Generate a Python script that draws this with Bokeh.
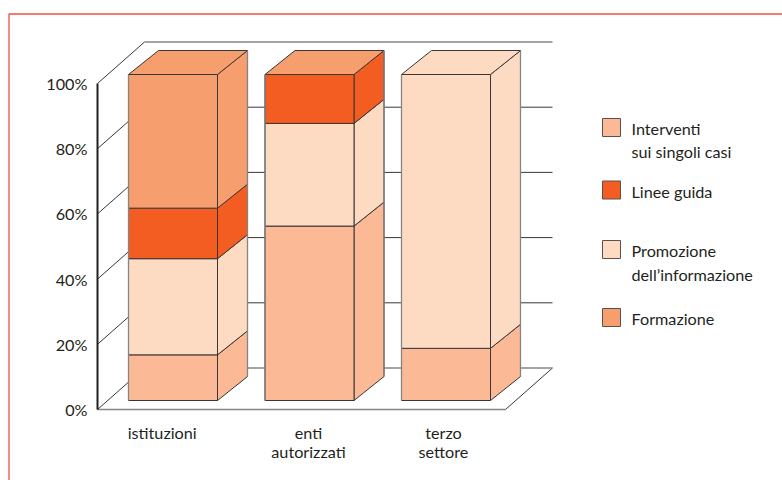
from bokeh.plotting import figure
from bokeh.models import Range1d, LinearAxis, FixedTicker
from bokeh.core.properties import value
from bokeh.embed import file_html
from bokeh.resources import INLINE

categories = ["istituzioni", "enti\nautorizzati", "terzo\nsettore"]
series_names = ["Interventi", "Promozione", "Linee guida", "Formazione"]
interventi = [14, 53.5, 16]
promozione = [29.5, 31.5, 84]
linee_guida = [15.5, 15, 0]
formazione = [41, 0, 0]
series_values = [interventi, promozione, linee_guida, formazione]
colors = ["#FBB995", "#FDDAC2", "#F35D22", "#F79E6F"]
top_face_series = [3, 3, 1]
y_ticks = [0, 20, 40, 60, 80, 100]

legend_entries = [
    (0, ["Interventi", "sui singoli casi"], 127, [128, 150.5]),
    (2, ["Linee guida"], 189.5, [191]),
    (1, ["Promozione", "dell\u2019informazione"], 249, [250, 274]),
    (3, ["Formazione"], 317, [318]),
]

FONT = "Lato"
FS = "16.2px"
W, H = 782, 480
PX_PER_PCT = 3.26
X0, Y0 = 97, 409           # canvas position of the axis origin
WALL_DX, WALL_DY = 47, 41.5
BAR_LEFT = [128, 264.5, 401]
BAR_W, BAR_DX, BAR_DY = 89, 30, 24
BAR_LIFT = 9
FLOOR_RIGHT = 505
DARK, GREY, INK = "#3a3636", "#858585", "#231f20"


def py(px):
    """canvas y in pixels -> percent units"""
    return (Y0 - px) / PX_PER_PCT


p = figure(width=W, height=H, output_backend="svg", toolbar_location=None,
           x_axis_location=None, y_axis_location=None,
           x_range=Range1d(0, W), y_range=Range1d(py(H), py(0)),
           min_border_left=0, min_border_right=0, min_border_top=0, min_border_bottom=0)
p.outline_line_color = None
p.grid.visible = False
p.background_fill_color = "white"
p.border_fill_color = "white"

yaxis = LinearAxis(ticker=FixedTicker(ticks=y_ticks), bounds=(0, 100), fixed_location=X0,
                   major_label_overrides={t: f"{t}%" for t in y_ticks})
yaxis.axis_line_color = INK
yaxis.axis_line_width = 2
yaxis.major_tick_line_color = None
yaxis.minor_tick_line_color = None
yaxis.major_label_standoff = 4
yaxis.major_label_text_font = FONT
yaxis.major_label_text_font_size = FS
yaxis.major_label_text_color = INK
p.add_layout(yaxis, "left")

label_pos = [161.7, 308, 443]
xaxis = LinearAxis(ticker=FixedTicker(ticks=label_pos), fixed_location=0,
                   major_label_overrides=dict(zip(label_pos, categories)))
xaxis.axis_line_color = None
xaxis.major_tick_line_color = None
xaxis.minor_tick_line_color = None
xaxis.major_label_standoff = 7
xaxis.major_label_text_font = FONT
xaxis.major_label_text_font_size = FS
xaxis.major_label_text_color = INK
xaxis.major_label_text_line_height = 1.05
p.add_layout(xaxis, "below")

# frame of the whole picture
p.line([W, 8.5, 8.5], [py(13.5), py(13.5), py(H)], line_color="#EE4F42", line_width=1.3)

# floor
dy_pct = WALL_DY / PX_PER_PCT
p.line([X0, FLOOR_RIGHT], [0, 0], line_color=GREY, line_width=1.5)
p.line([FLOOR_RIGHT, FLOOR_RIGHT + WALL_DX], [0, dy_pct], line_color=DARK, line_width=1)

# wall gridlines
for t in y_ticks:
    gx = [X0, X0 + WALL_DX, FLOOR_RIGHT + WALL_DX]
    gy = [t, t + dy_pct, t + dy_pct]
    edge = t in (0, 100)
    p.line(gx[:2], gy[:2], line_color=DARK, line_width=1)
    p.line(gx[1:], gy[1:], line_color=GREY if edge else DARK, line_width=1.6 if edge else 1)

# stacked 3D bars
lift = BAR_LIFT / PX_PER_PCT
bdy = BAR_DY / PX_PER_PCT
for i, left in enumerate(BAR_LEFT):
    right = left + BAR_W
    base = 0
    for s, vals in enumerate(series_values):
        v = vals[i]
        if v == 0:
            continue
        b, t = lift + base, lift + base + v
        p.patch([right, right + BAR_DX, right + BAR_DX, right],
                [b, b + bdy, t + bdy, t], fill_color=colors[s],
                line_color=DARK, line_width=1)
        p.quad(left=left, right=right, bottom=b, top=t, fill_color=colors[s],
               line_color=DARK, line_width=1)
        base += v
    p.patch([left, right, right + BAR_DX, left + BAR_DX],
            [lift + base, lift + base, lift + base + bdy, lift + base + bdy],
            fill_color=colors[top_face_series[i]], line_color=DARK, line_width=1)
    # soft grey outer edges
    p.line([left, left], [lift, lift + base], line_color=GREY, line_width=1.3)
    p.line([right + BAR_DX, right + BAR_DX], [lift + bdy, lift + base + bdy],
           line_color=GREY, line_width=1.3)

# legend
for s, lines, sw_y, text_ys in legend_entries:
    p.rect(x=[611], y=[py(sw_y)], width=18, height=18, height_units="screen",
           width_units="screen", fill_color=colors[s], line_color="#5a5050", line_width=1)
    p.text(x=[631] * len(lines), y=[py(v) for v in text_ys], text=lines,
           text_font=value(FONT), text_font_size=FS, text_color=INK,
           text_baseline="middle", text_align="left")

open("out.html", "w").write(file_html(p, INLINE))
